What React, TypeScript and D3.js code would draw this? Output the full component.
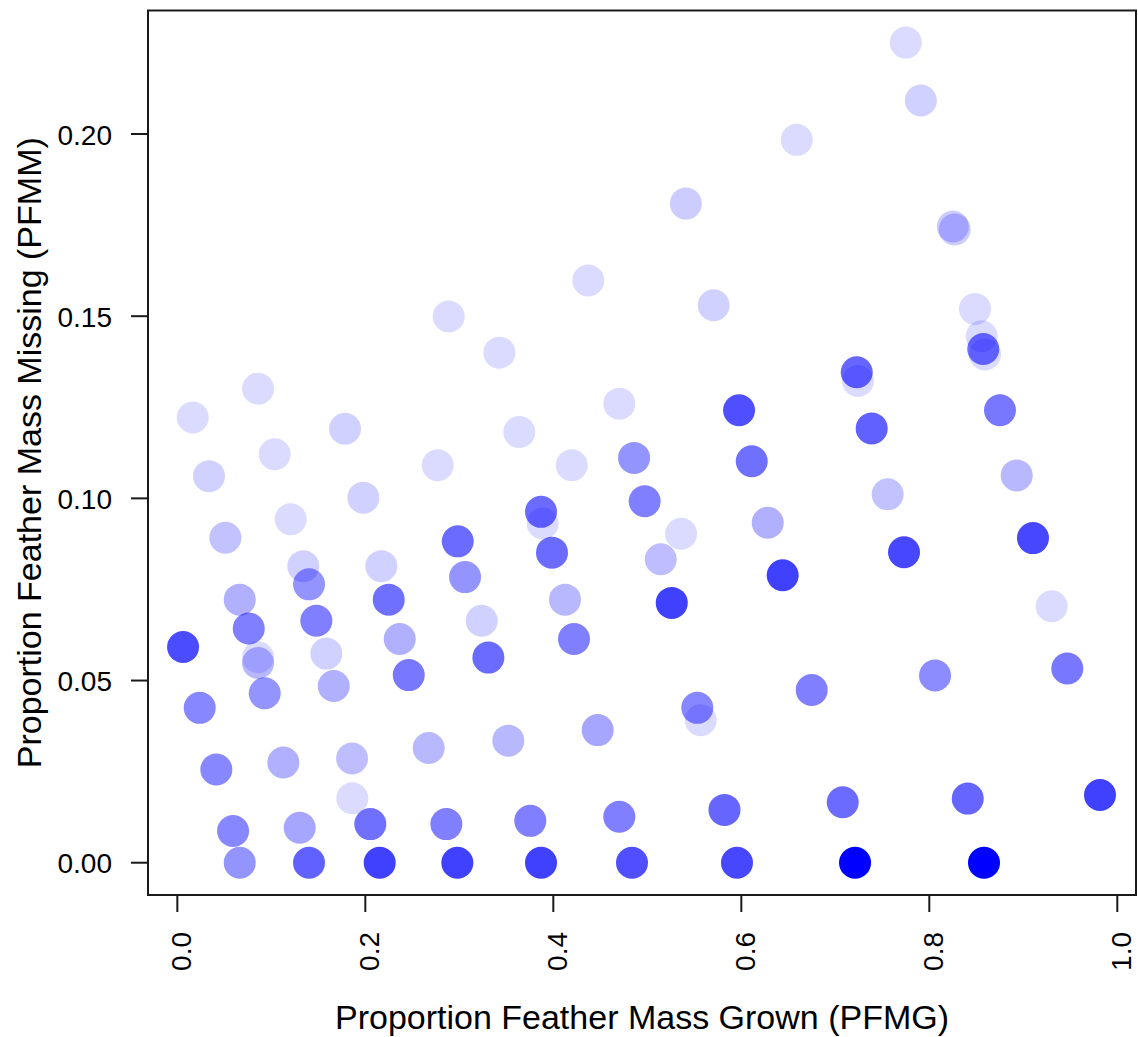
import React from "react";
import * as d3 from "d3";

// Proportion Feather Mass Grown (x), Proportion Feather Mass Missing (y),
// and the opacity of each blue point.
const pfmg: number[] = [
  0.775, 0.791, 0.659, 0.541, 0.825, 0.827, 0.8486, 0.8557, 0.8574, 0.8593,
  0.7228, 0.7241, 0.8752, 0.7387, 0.893, 0.7557, 0.9103, 0.7731, 0.9302, 0.9468,
  0.8061, 0.6749, 0.9816, 0.7079, 0.8409, 0.721, 0.8582,
  0.644, 0.4124, 0.526, 0.3238, 0.422, 0.3309, 0.5532, 0.5568, 0.4472,
  0.3521, 0.5821, 0.3755, 0.4702, 0.3869, 0.4837, 0.5954,
  0.4372, 0.5706, 0.3426, 0.4702, 0.5976, 0.3638, 0.6111, 0.4196, 0.4859,
  0.3869, 0.3887, 0.4972, 0.5359, 0.6281, 0.3986, 0.5143,
  0.2887, 0.0859, 0.0164, 0.1784, 0.1036, 0.277, 0.0337, 0.1979, 0.1206,
  0.0511, 0.2983, 0.134, 0.217, 0.1401, 0.3061,
  0.0664, 0.2249, 0.076, 0.0061, 0.1479, 0.2366, 0.1585, 0.0859, 0.0859,
  0.2462, 0.1664, 0.093, 0.0238, 0.2674, 0.1859, 0.1128, 0.0415, 0.1862,
  0.2053, 0.2862, 0.1302, 0.0593, 0.0664, 0.1401, 0.2153, 0.2979,
];

const pfmm: number[] = [
  0.2251, 0.2092, 0.1984, 0.1809, 0.1746, 0.1738, 0.152, 0.1445, 0.141, 0.1395,
  0.1346, 0.1322, 0.1242, 0.1192, 0.1063, 0.1011, 0.0891, 0.0852, 0.0704, 0.0533,
  0.0514, 0.0474, 0.0186, 0.0166, 0.0176, 0.0, 0.0,
  0.0789, 0.0722, 0.0713, 0.0664, 0.0614, 0.0563, 0.0425, 0.0391, 0.0364,
  0.0335, 0.0145, 0.0115, 0.0126, 0.0, 0.0, 0.0,
  0.1598, 0.153, 0.14, 0.126, 0.1242, 0.1182, 0.1102, 0.1091, 0.1111,
  0.0963, 0.0931, 0.0992, 0.0903, 0.0933, 0.0851, 0.0833,
  0.1499, 0.1301, 0.1222, 0.1191, 0.1121, 0.1091, 0.1061, 0.1002, 0.0943,
  0.0892, 0.0882, 0.0814, 0.0814, 0.0764, 0.0784,
  0.0722, 0.0722, 0.0643, 0.0592, 0.0664, 0.0614, 0.0574, 0.0564, 0.0548,
  0.0515, 0.0485, 0.0465, 0.0425, 0.0315, 0.0286, 0.0275, 0.0256, 0.0177,
  0.0106, 0.0106, 0.0096, 0.0087, 0.0, 0.0, 0.0, 0.0,
];

const shade: number[] = [
  0.14, 0.18, 0.14, 0.2, 0.2, 0.2, 0.14, 0.14, 0.56, 0.14,
  0.6, 0.14, 0.53, 0.62, 0.28, 0.24, 0.72, 0.72, 0.14, 0.53,
  0.45, 0.5, 0.75, 0.58, 0.6, 1.0, 1.0,
  0.75, 0.28, 0.75, 0.18, 0.5, 0.58, 0.47, 0.14, 0.35,
  0.28, 0.6, 0.5, 0.5, 0.75, 0.69, 0.72,
  0.14, 0.18, 0.14, 0.14, 0.69, 0.14, 0.56, 0.14, 0.42,
  0.58, 0.14, 0.5, 0.14, 0.31, 0.58, 0.26,
  0.14, 0.14, 0.14, 0.18, 0.14, 0.14, 0.18, 0.18, 0.14,
  0.24, 0.58, 0.18, 0.18, 0.42, 0.42,
  0.31, 0.56, 0.5, 0.7, 0.5, 0.31, 0.18, 0.14, 0.28,
  0.53, 0.31, 0.42, 0.47, 0.28, 0.26, 0.31, 0.47, 0.14,
  0.56, 0.5, 0.35, 0.47, 0.42, 0.62, 0.75, 0.75,
];

const xTicks: number[] = [0.0, 0.2, 0.4, 0.6, 0.8, 1.0];
const yTicks: number[] = [0.0, 0.05, 0.1, 0.15, 0.2];

const xTitle = "Proportion Feather Mass Grown (PFMG)";
const yTitle = "Proportion Feather Mass Missing (PFMM)";

const W = 1138;
const H = 1037;
const box = { left: 148, right: 1136, top: 10.5, bottom: 895 };
const FONT = "'Liberation Sans', Arial, Helvetica, sans-serif";

export default function App() {
  const x = d3.scaleLinear().domain([-0.0312, 1.0199]).range([box.left, box.right]);
  const y = d3.scaleLinear().domain([-0.00886, 0.2339]).range([box.bottom, box.top]);
  const fmtX = d3.format(".1f");
  const fmtY = d3.format(".2f");
  const points = d3.range(pfmg.length).map((i) => ({
    gx: pfmg[i],
    my: pfmm[i],
    a: shade[i],
  }));
  const midX = (box.left + box.right) / 2;
  const midY = (box.top + box.bottom) / 2;

  return (
    <svg
      width={W}
      height={H}
      viewBox={`0 0 ${W} ${H}`}
      style={{ position: "absolute", left: 0, top: 0, background: "#fff" }}
    >
      <rect x={0} y={0} width={W} height={H} fill="#fff" />
      <g>
        {points.map((p, i) => (
          <circle
            key={i}
            cx={x(p.gx)}
            cy={y(p.my)}
            r={16}
            fill="#0000ff"
            fillOpacity={p.a}
          />
        ))}
      </g>
      <rect
        x={box.left}
        y={box.top}
        width={box.right - box.left}
        height={box.bottom - box.top}
        fill="none"
        stroke="#1a1a1a"
        strokeWidth={2}
      />
      {/* x axis */}
      <g fontFamily={FONT} fontSize={28} fill="#000">
        {xTicks.map((t) => (
          <g key={t}>
            <line x1={x(t)} x2={x(t)} y1={box.bottom} y2={box.bottom + 17} stroke="#1a1a1a" strokeWidth={2} />
            <text transform={`translate(${x(t) + 14},932) rotate(-90)`} textAnchor="end">
              {fmtX(t)}
            </text>
          </g>
        ))}
      </g>
      {/* y axis */}
      <g fontFamily={FONT} fontSize={28} fill="#000">
        {yTicks.map((t) => (
          <g key={t}>
            <line x1={box.left - 17} x2={box.left} y1={y(t)} y2={y(t)} stroke="#1a1a1a" strokeWidth={2} />
            <text x={112} y={y(t) + 10.5} textAnchor="end">
              {fmtY(t)}
            </text>
          </g>
        ))}
      </g>
      <text x={midX} y={1029} textAnchor="middle" fontFamily={FONT} fontSize={34} fill="#000">
        {xTitle}
      </text>
      <text
        transform={`translate(41,${midY}) rotate(-90)`}
        textAnchor="middle"
        fontFamily={FONT}
        fontSize={34}
        fill="#000"
      >
        {yTitle}
      </text>
    </svg>
  );
}
